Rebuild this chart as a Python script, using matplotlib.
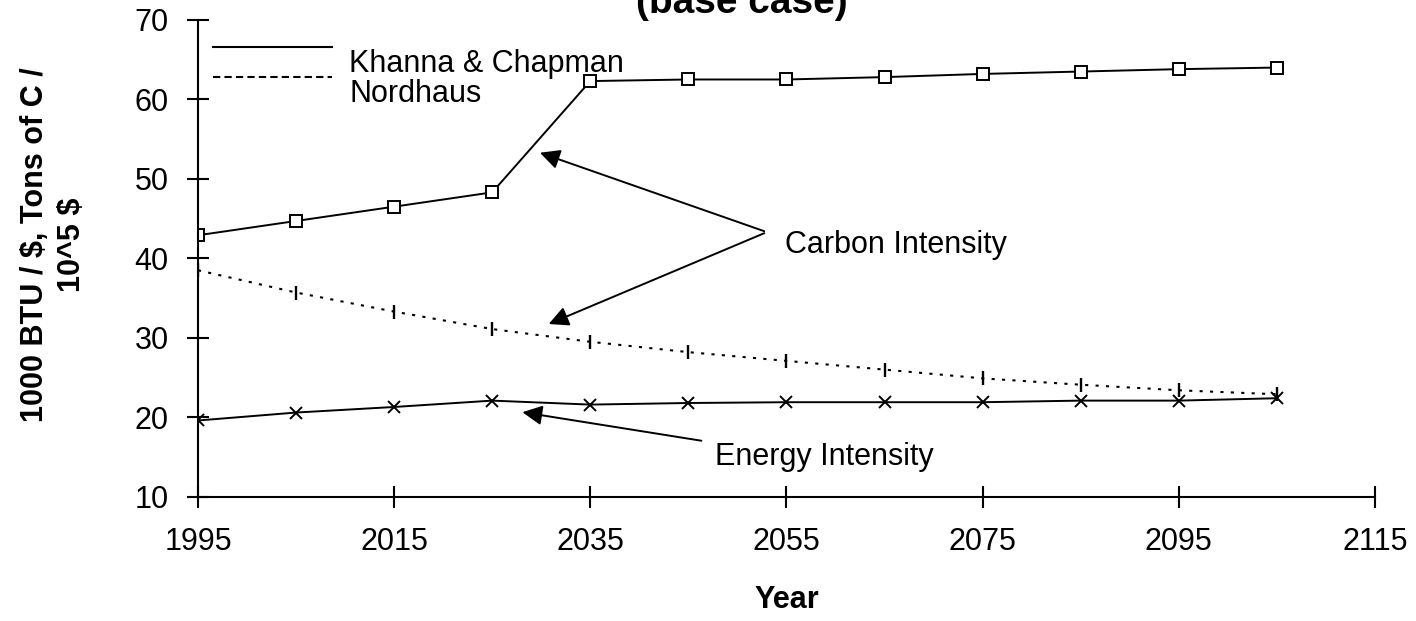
import matplotlib
matplotlib.use("Agg")
import matplotlib.pyplot as plt
from matplotlib.lines import Line2D

plt.rcParams["font.family"] = ["Liberation Sans", "DejaVu Sans"]

years = [1995, 2005, 2015, 2025, 2035, 2045, 2055, 2065, 2075, 2085, 2095, 2105]
carbon_kc = [42.9, 44.7, 46.5, 48.3, 62.3, 62.5, 62.5, 62.8, 63.2, 63.5, 63.8, 64.0]
carbon_nord = [38.5, 35.7, 33.3, 31.1, 29.5, 28.2, 27.1, 26.0, 24.9, 24.1, 23.4, 22.9]
energy_kc = [19.6, 20.6, 21.3, 22.1, 21.6, 21.8, 21.9, 21.9, 21.9, 22.1, 22.1, 22.4]

FS = 22

fig = plt.figure(figsize=(14.16, 6.21), dpi=100)
ax = fig.add_axes([0.1398, 0.2, 0.8312, 0.768])

ax.plot(years, carbon_kc, color="black", lw=1.4, marker="s", ms=8.5,
        mfc="white", mec="black", mew=1.4)
ax.plot(years, carbon_nord, color="black", lw=1.5, ls=(0, (1.5, 3.5)),
        marker="|", ms=10, mew=1.7)
ax.plot(years, energy_kc, color="black", lw=1.4, marker="x", ms=9, mew=1.4)

ax.set_xlim(1995, 2115)
ax.set_ylim(10, 70)
ax.set_xticks(range(1995, 2116, 20))
ax.set_yticks(range(10, 71, 10))
for s in ("top", "right"):
    ax.spines[s].set_visible(False)
for s in ("left", "bottom"):
    ax.spines[s].set_linewidth(1.5)
ax.tick_params(direction="inout", length=16, width=1.5, labelsize=FS)
ax.tick_params(axis="x", pad=14)
ax.tick_params(axis="y", pad=13)

ax.set_xlabel("Year", fontsize=FS, fontweight="bold")
ax.xaxis.set_label_coords(0.5, -0.184)
ax.set_ylabel("1000 BTU / $, Tons of C /\n10^5 $", fontsize=FS,
              fontweight="bold", linespacing=1.3)
ax.yaxis.set_label_coords(-0.094, 0.528)

fig.text(0.524, 1 - 13 / 621, "(base case)", ha="center", va="baseline",
         fontsize=28, fontweight="bold")

arrow = dict(arrowstyle="-|>", color="black", lw=1.4, mutation_scale=30)
ax.annotate("", xy=(2029.6, 53.4), xytext=(2053.0, 43.3), arrowprops=arrow)
ax.annotate("", xy=(2030.5, 31.6), xytext=(2053.0, 43.3), arrowprops=arrow)
ax.text(2054.9, 40.7, "Carbon Intensity", fontsize=FS, va="baseline")
ax.annotate("", xy=(2027.8, 20.7), xytext=(2046.6, 17.0), arrowprops=arrow)
ax.text(2047.7, 14.0, "Energy Intensity", fontsize=FS, va="baseline")

leg = ax.legend(handles=[
    Line2D([0], [0], color="black", lw=1.5, label="Khanna & Chapman"),
    Line2D([0], [0], color="black", lw=1.5, ls=(0, (3.5, 2)), label="Nordhaus"),
], loc="upper left", bbox_to_anchor=(0.0, 0.972), frameon=False, fontsize=FS,
    handlelength=3.9, handletextpad=0.55, labelspacing=0.0, borderaxespad=0.3,
    borderpad=0.2)
for ln in leg.get_lines():
    ln.set_ydata([y + 10 for y in ln.get_ydata()])

fig.savefig("out.png", dpi=100)
